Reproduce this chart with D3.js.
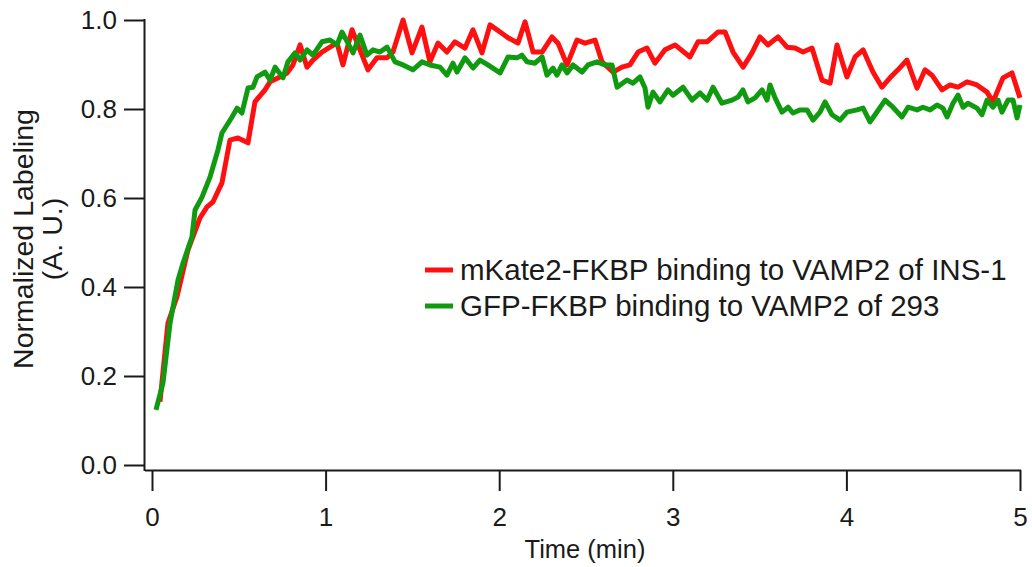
<!DOCTYPE html>
<html>
<head>
<meta charset="utf-8">
<script src="https://cdn.jsdelivr.net/npm/d3@7"></script>
<style>
  body { margin: 0; background: #ffffff; }
  #my_plot text { font-family: Arial, "Liberation Sans", sans-serif; fill: #1a1a1a; }
</style>
</head>
<body>
<div id="my_plot"></div>
<script>
// Sizing
const svgWidth = 1032,
  svgHeight = 567;

// Content
const xTicks = [0, 1, 2, 3, 4, 5];
const yTicks = [0.0, 0.2, 0.4, 0.6, 0.8, 1.0];
const xAxisTitle = "Time (min)";
const yAxisTitle = ["Normalized Labeling", "(A. U.)"];
const seriesNames = ["mKate2-FKBP binding to VAMP2 of INS-1", "GFP-FKBP binding to VAMP2 of 293"];
const colors = ["#ff1010", "#109a10"];

// mKate2 (red) series
const redTime = [0.046, 0.092, 0.144, 0.207, 0.276, 0.317, 0.351, 0.403, 0.449, 0.495, 0.553, 0.593, 0.651, 0.680, 0.737, 0.778, 0.812, 0.853, 0.893, 0.927, 0.979, 1.025, 1.066, 1.100, 1.152, 1.198, 1.244, 1.296, 1.354, 1.388, 1.446, 1.498, 1.555, 1.601, 1.647, 1.699, 1.745, 1.803, 1.849, 1.901, 1.947, 2.005, 2.051, 2.108, 2.149, 2.195, 2.247, 2.304, 2.339, 2.391, 2.448, 2.494, 2.552, 2.592, 2.656, 2.707, 2.753, 2.800, 2.851, 2.897, 2.955, 3.013, 3.099, 3.145, 3.197, 3.260, 3.301, 3.347, 3.405, 3.456, 3.502, 3.548, 3.606, 3.658, 3.704, 3.750, 3.802, 3.859, 3.906, 3.946, 4.003, 4.050, 4.096, 4.153, 4.205, 4.251, 4.297, 4.349, 4.407, 4.453, 4.493, 4.551, 4.597, 4.643, 4.695, 4.752, 4.810, 4.844, 4.902, 4.954, 5.000];
const redValue = [0.142, 0.319, 0.378, 0.483, 0.555, 0.580, 0.591, 0.634, 0.730, 0.735, 0.724, 0.816, 0.843, 0.861, 0.872, 0.881, 0.899, 0.944, 0.894, 0.910, 0.928, 0.939, 0.948, 0.899, 0.978, 0.933, 0.888, 0.915, 0.915, 0.928, 1.000, 0.926, 0.984, 0.906, 0.948, 0.928, 0.951, 0.937, 0.978, 0.926, 0.989, 0.973, 0.960, 0.948, 0.996, 0.928, 0.928, 0.962, 0.948, 0.899, 0.955, 0.948, 0.955, 0.906, 0.883, 0.894, 0.899, 0.928, 0.937, 0.903, 0.933, 0.944, 0.917, 0.951, 0.951, 0.973, 0.973, 0.928, 0.894, 0.926, 0.962, 0.944, 0.962, 0.939, 0.937, 0.928, 0.937, 0.865, 0.858, 0.944, 0.872, 0.917, 0.933, 0.883, 0.849, 0.870, 0.888, 0.910, 0.847, 0.888, 0.876, 0.843, 0.854, 0.849, 0.861, 0.854, 0.838, 0.816, 0.870, 0.881, 0.825];

// GFP (green) series
const greenTime = [0.023, 0.063, 0.104, 0.150, 0.179, 0.230, 0.248, 0.288, 0.334, 0.380, 0.403, 0.461, 0.490, 0.518, 0.553, 0.582, 0.605, 0.651, 0.680, 0.709, 0.755, 0.783, 0.824, 0.853, 0.893, 0.927, 0.979, 1.025, 1.066, 1.094, 1.129, 1.158, 1.198, 1.238, 1.273, 1.313, 1.354, 1.400, 1.446, 1.503, 1.555, 1.601, 1.659, 1.699, 1.734, 1.757, 1.803, 1.849, 1.889, 1.935, 2.005, 2.051, 2.103, 2.131, 2.160, 2.206, 2.247, 2.275, 2.310, 2.333, 2.362, 2.391, 2.425, 2.477, 2.512, 2.563, 2.609, 2.650, 2.679, 2.736, 2.771, 2.811, 2.840, 2.857, 2.886, 2.926, 2.972, 3.001, 3.059, 3.111, 3.157, 3.197, 3.232, 3.283, 3.341, 3.376, 3.404, 3.433, 3.474, 3.514, 3.543, 3.560, 3.589, 3.629, 3.664, 3.692, 3.733, 3.773, 3.808, 3.848, 3.877, 3.917, 3.963, 4.003, 4.061, 4.096, 4.136, 4.165, 4.223, 4.268, 4.320, 4.355, 4.407, 4.441, 4.482, 4.522, 4.556, 4.580, 4.614, 4.643, 4.672, 4.700, 4.752, 4.781, 4.810, 4.844, 4.873, 4.896, 4.931, 4.960, 4.983, 5.000];
const greenValue = [0.124, 0.184, 0.319, 0.416, 0.454, 0.512, 0.573, 0.602, 0.647, 0.708, 0.746, 0.782, 0.802, 0.791, 0.847, 0.849, 0.872, 0.883, 0.865, 0.894, 0.870, 0.906, 0.926, 0.910, 0.933, 0.921, 0.951, 0.955, 0.944, 0.973, 0.948, 0.926, 0.966, 0.921, 0.933, 0.928, 0.939, 0.906, 0.899, 0.888, 0.906, 0.899, 0.894, 0.876, 0.903, 0.883, 0.915, 0.892, 0.910, 0.899, 0.881, 0.917, 0.915, 0.921, 0.906, 0.903, 0.917, 0.876, 0.892, 0.876, 0.899, 0.881, 0.899, 0.883, 0.899, 0.906, 0.899, 0.899, 0.849, 0.865, 0.858, 0.872, 0.847, 0.804, 0.838, 0.816, 0.843, 0.831, 0.849, 0.820, 0.836, 0.820, 0.849, 0.813, 0.820, 0.827, 0.843, 0.816, 0.825, 0.843, 0.820, 0.854, 0.825, 0.793, 0.804, 0.791, 0.798, 0.798, 0.775, 0.793, 0.816, 0.787, 0.775, 0.793, 0.798, 0.802, 0.771, 0.787, 0.820, 0.804, 0.782, 0.804, 0.798, 0.804, 0.798, 0.809, 0.802, 0.782, 0.813, 0.831, 0.804, 0.813, 0.802, 0.787, 0.820, 0.804, 0.820, 0.793, 0.820, 0.820, 0.780, 0.809];


/** Create SVG */
var svg = d3.select("#my_plot")
  .append("svg")
  .attr("width", svgWidth)
  .attr("height", svgHeight);

/** Scales */
var x = d3.scaleLinear()
  .domain([0, 5])
  .range([152, 1020]);

var y = d3.scaleLinear()
  .domain([0, 1])
  .range([465, 20]);

/** X-Axis (offset below the data area, igor style) */
var xAxis = svg.append("g").classed("axis", true)
  .attr("transform", "translate(0,470)")
  .call(d3.axisBottom(x).tickValues(xTicks).tickFormat(d3.format("d"))
    .tickSize(21).tickSizeOuter(0).tickPadding(17));
xAxis.select(".domain").attr("d", "M145,0.5H1021");

svg.append("text")
  .attr("text-anchor", "middle")
  .attr("x", 585)
  .attr("y", 558)
  .style("font-size", "25.5px")
  .text(xAxisTitle);

/** Y-Axis */
var yAxis = svg.append("g").classed("axis", true)
  .attr("transform", "translate(145,0)")
  .call(d3.axisLeft(y).tickValues(yTicks).tickFormat(d3.format(".1f"))
    .tickSize(21).tickSizeOuter(0).tickPadding(7));
yAxis.select(".domain").attr("d", "M-0.5,19H-0.5V471");

// two line title
svg.append("g")
  .attr("transform", "translate(33,239) rotate(-90)")
  .selectAll("text")
  .data(yAxisTitle)
  .enter().append("text")
  .attr("text-anchor", "middle")
  .attr("x", 0)
  .attr("y", (d, i) => i * 29)
  .style("font-size", "28.5px")
  .text((d) => d);

//styling
svg.selectAll(".axis").select("path").style("stroke", "#1a1a1a").style("stroke-width", 2);
svg.selectAll(".axis").selectAll("line").style("stroke", "#1a1a1a").style("stroke-width", 2);
svg.selectAll(".axis").selectAll("text").style("font-size", "26px").style("fill", "#1a1a1a")
  .style("font-family", "Arial, 'Liberation Sans', sans-serif");

/** Lines */
var series = [
  { name: seriesNames[0], color: colors[0], points: d3.zip(redTime, redValue) },
  { name: seriesNames[1], color: colors[1], points: d3.zip(greenTime, greenValue) }
];

var line = d3.line()
  .x((d) => x(d[0]))
  .y((d) => y(d[1]));

svg.append("g").classed("lines", true)
  .selectAll("path")
  .data(series)
  .enter().append("path")
  .attr("d", (d) => line(d.points))
  .attr("fill", "none")
  .attr("stroke", (d) => d.color)
  .attr("stroke-width", 5)
  .attr("stroke-linejoin", "round");

/** Legend */
var legend = svg.append("g").classed("legend", true)
  .selectAll("g")
  .data(series)
  .enter().append("g")
  .attr("transform", (d, i) => "translate(425," + (270 + i * 36) + ")");

legend.append("line")
  .attr("x1", 0)
  .attr("x2", 28)
  .attr("stroke", (d) => d.color)
  .attr("stroke-width", 5);

legend.append("text")
  .attr("x", 35)
  .attr("y", 10)
  .style("font-size", "29.5px")
  .text((d) => d.name);
</script>
</body>
</html>
